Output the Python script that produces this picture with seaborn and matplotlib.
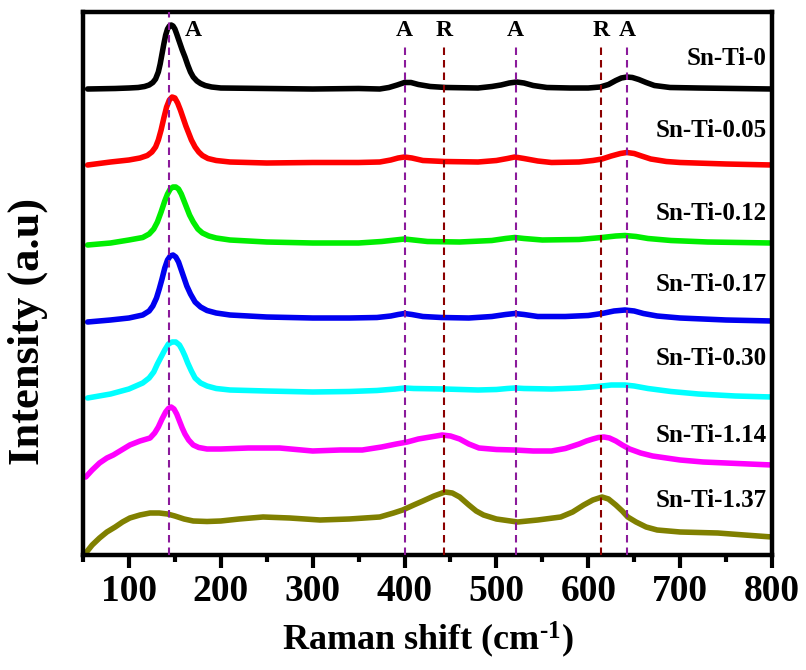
import matplotlib
matplotlib.use("Agg")
import matplotlib.pyplot as plt
import seaborn as sns
import pandas as pd
from matplotlib.ticker import MultipleLocator

# Stacked Raman spectra (offset intensities, arbitrary units)
shift_0 = [55, 85, 100, 110, 117, 122, 126, 129, 132, 134, 136, 138, 140, 142, 144, 146, 148, 150, 152, 155,
           158, 161, 164, 167, 170, 174, 178, 183, 190, 200, 250, 300, 350, 373, 383, 392, 400, 407, 415,
           428, 445, 480, 495, 505, 514, 522, 530, 540, 555, 580, 600, 613, 622, 630, 636, 642, 648, 655,
           663, 672, 689, 720, 760, 800]
int_0 = [466, 466.5, 467, 467.5, 468.5, 470, 472.5, 476, 483, 491, 501, 511, 520, 526, 529, 530, 529, 526, 521, 513,
         505, 498, 490, 483, 478, 474, 471.5, 469.5, 468, 467, 466.5, 466, 466.5, 466, 467.5, 470, 472.5, 472.5, 470.5,
         468.5, 467.5, 467, 468.5, 470, 472, 473, 472, 469.5, 467.5, 467, 467, 468, 470.5, 474.5, 477, 478, 477.5, 475.5,
         472.5, 469.5, 467.5, 467, 466.5, 466]

shift_005 = [55, 80, 100, 112, 120, 125, 129, 132, 135, 138, 141, 144, 147, 150, 153, 156, 159, 162, 165, 168,
             172, 176, 180, 186, 195, 210, 250, 300, 350, 373, 385, 393, 400, 408, 420, 443, 480, 500, 512,
             520, 530, 545, 560, 590, 605, 615, 625, 635, 642, 650, 658, 668, 685, 700, 750, 800]
int_005 = [390, 393, 395, 397, 399.5, 403, 408, 415, 425, 437, 448, 455, 458, 457, 452, 445, 437, 429, 422, 415,
           408, 403, 399.5, 396.5, 394.5, 393, 392, 392.5, 392.5, 393, 395, 397, 398, 397, 394.5, 393.5, 393, 394.5, 396.5,
           398, 396.5, 394, 392.5, 393, 394.5, 396, 399, 401.5, 402.5, 401.5, 399, 396, 393.5, 392.5, 391, 390]

shift_012 = [55, 80, 100, 115, 122, 127, 131, 135, 139, 142, 145, 148, 151, 154, 157, 160, 163, 166, 170, 175,
             180, 187, 195, 210, 250, 300, 350, 375, 390, 400, 410, 425, 460, 495, 510, 520, 530, 550, 590,
             615, 630, 640, 652, 665, 690, 730, 800]
int_012 = [310, 312, 315, 317.5, 321, 326, 333, 343, 354, 361, 366, 368, 368, 366, 361, 354, 347, 340, 333, 326,
           322, 319, 317, 315, 313, 312, 312, 313.5, 315, 316, 315, 313.5, 313, 314.5, 316.5, 317.5, 316.5, 315, 315.5,
           317.5, 319, 319.5, 318.5, 316.5, 314.5, 313, 312]

shift_017 = [55, 80, 100, 115, 122, 126, 130, 133, 136, 139, 142, 145, 148, 151, 154, 157, 160, 163, 167, 172,
             178, 185, 195, 210, 250, 300, 340, 370, 385, 393, 400, 408, 420, 440, 470, 495, 510, 520, 530,
             545, 575, 600, 615, 628, 640, 650, 660, 675, 700, 750, 800]
int_017 = [233, 235, 237, 240, 244, 249, 257, 266, 276, 287, 295, 299, 300, 298, 293, 285, 277, 269, 261, 253,
           248, 244.5, 242, 240, 238, 237, 237, 237.5, 239, 240.5, 241.5, 240.5, 238.5, 237.5, 237, 238.5, 240.5, 241.5, 240.5,
           238.5, 238.5, 239.5, 241.5, 244, 245, 244, 241.5, 239, 237, 235, 234]

shift_030 = [55, 80, 100, 115, 122, 127, 131, 135, 139, 143, 147, 151, 155, 158, 161, 164, 168, 172, 178, 185,
             195, 210, 250, 300, 340, 370, 390, 400, 410, 443, 480, 500, 512, 520, 530, 560, 590, 610, 625,
             640, 650, 665, 690, 720, 760, 800]
int_030 = [157, 161, 166, 172, 177, 183, 191, 198, 205, 211, 213, 213, 210, 205, 199, 192, 184, 177, 172, 169,
           166.5, 165, 164, 163, 163.5, 164.5, 166, 167, 166.5, 166, 165, 165.5, 166.5, 167, 166.5, 166, 167, 168.5, 170,
           170, 169, 166.5, 163.5, 161, 159, 158]

shift_114 = [53, 60, 68, 76, 83, 92, 101, 112, 123, 128, 132, 136, 140, 143, 146, 149, 152, 155, 158, 161,
             165, 170, 176, 185, 200, 230, 264, 300, 330, 354, 375, 391, 403, 415, 428, 441, 450, 460, 470,
             481, 500, 520, 540, 560, 575, 590, 598, 605, 611, 617, 623, 630, 637, 645, 657, 670, 685, 700,
             725, 750, 775, 800]
int_114 = [78, 85, 92, 97, 100, 105, 110, 114, 117, 122, 128, 136, 143, 146.5, 148, 146, 141, 134, 127, 121,
           115, 110, 107.5, 106, 106, 107, 107, 104, 105, 105, 108, 111, 113, 116, 118, 120, 119, 116, 111,
           107, 105.5, 105, 104, 104, 106.5, 111, 114, 116, 117.5, 118, 117, 114, 110, 106, 102, 99, 97, 95,
           93, 92, 91, 90]

shift_137 = [53, 60, 68, 76, 85, 93, 101, 112, 123, 133, 142, 150, 160, 170, 185, 200, 220, 246, 275, 308,
             340, 373, 388, 398, 410, 420, 432, 444, 452, 460, 470, 478, 486, 500, 523, 545, 570, 583, 595,
             605, 615, 622, 630, 637, 643, 652, 663, 675, 700, 741, 770, 800]
int_137 = [2, 10, 17, 23, 28, 33, 37, 40, 42, 42, 41, 39, 36, 34, 33.5, 34, 36, 38, 37, 35,
           36, 38, 42, 45, 50, 54, 59, 63, 62, 58, 50, 44, 40, 36, 33, 35, 38, 43, 50,
           55, 58, 56, 50, 44, 38, 33, 28, 25, 23, 22, 20, 18]

samples = ["Sn-Ti-0", "Sn-Ti-0.05", "Sn-Ti-0.12", "Sn-Ti-0.17", "Sn-Ti-0.30", "Sn-Ti-1.14", "Sn-Ti-1.37"]
shifts = [shift_0, shift_005, shift_012, shift_017, shift_030, shift_114, shift_137]
intensities = [int_0, int_005, int_012, int_017, int_030, int_114, int_137]
colors = ["#000000", "#FF0000", "#00EE00", "#0000F0", "#00FFFF", "#FF00FF", "#808000"]
label_y = [490, 418, 335, 264, 190, 113, 48]

# Phase reference bands: A = anatase, R = rutile
band_pos = [144, 400, 443, 521, 614, 642]
band_phase = ["A", "A", "R", "A", "R", "A"]

sns.set_theme(style="ticks")
plt.rcParams["font.family"] = ["Liberation Serif", "DejaVu Serif"]
plt.rcParams["font.weight"] = "bold"
plt.rcParams["text.color"] = "black"
plt.rcParams["axes.labelcolor"] = "black"
plt.rcParams["axes.edgecolor"] = "black"
plt.rcParams["xtick.color"] = "black"
plt.rcParams["ytick.color"] = "black"
plt.rcParams["mathtext.fontset"] = "custom"
plt.rcParams["mathtext.rm"] = "Liberation Serif:bold"
plt.rcParams["mathtext.it"] = "Liberation Serif:bold"
plt.rcParams["mathtext.bf"] = "Liberation Serif:bold"

fig = plt.figure(figsize=(8.06, 6.70), dpi=100)
ax = fig.add_axes([83 / 806, 115 / 670, 689 / 806, 543 / 670])

for name, xs, ys, c in zip(samples, shifts, intensities, colors):
    df = pd.DataFrame({"shift": xs, "intensity": ys})
    sns.lineplot(data=df, x="shift", y="intensity", ax=ax, color=c, lw=4,
                 estimator=None, sort=False, solid_capstyle="round", solid_joinstyle="round")

for name, ly in zip(samples, label_y):
    ax.text(794, ly, name, ha="right", va="baseline", fontsize=18, fontweight="bold", color="black")

phase_colors = {"A": "#8B1A9B", "R": "#8B0000"}
for pos, ph in zip(band_pos, band_phase):
    top = 543 if pos == band_pos[0] else 512
    ax.vlines(pos, 0, top, colors=phase_colors[ph], linestyles=(0, (3.6, 2.4)), lw=1.5, zorder=5)
    if pos == band_pos[0]:
        ax.text(pos + 26, 519, ph, ha="center", va="baseline", fontsize=17, fontweight="bold")
    else:
        ax.text(pos, 519, ph, ha="center", va="baseline", fontsize=17, fontweight="bold")

ax.set_xlim(50, 800)
ax.set_ylim(0, 543)
ax.xaxis.set_major_locator(MultipleLocator(100))
ax.xaxis.set_minor_locator(MultipleLocator(50))
ax.set_xticks(range(100, 801, 100))
ax.set_yticks([])
ax.tick_params(axis="x", which="major", direction="out", length=9, width=3, pad=5, labelsize=27,
               colors="black")
ax.tick_params(axis="x", which="minor", direction="out", length=5, width=3, colors="black")
for lab in ax.get_xticklabels():
    lab.set_fontweight("bold")
for sp in ax.spines.values():
    sp.set_linewidth(3.2)
    sp.set_color("black")
    sp.set_visible(True)

ax.set_xlabel("Raman shift (cm$^{\u20101}$)", fontsize=26, fontweight="bold", va="baseline")
ax.xaxis.set_label_coords(0.5, (555 - 650) / 543)
ax.set_ylabel("Intensity (a.u)", fontsize=32, fontweight="bold")
ax.yaxis.set_label_coords((48 - 83) / 689, (555 - 331.5) / 543)

fig.savefig("out.png", dpi=100)
